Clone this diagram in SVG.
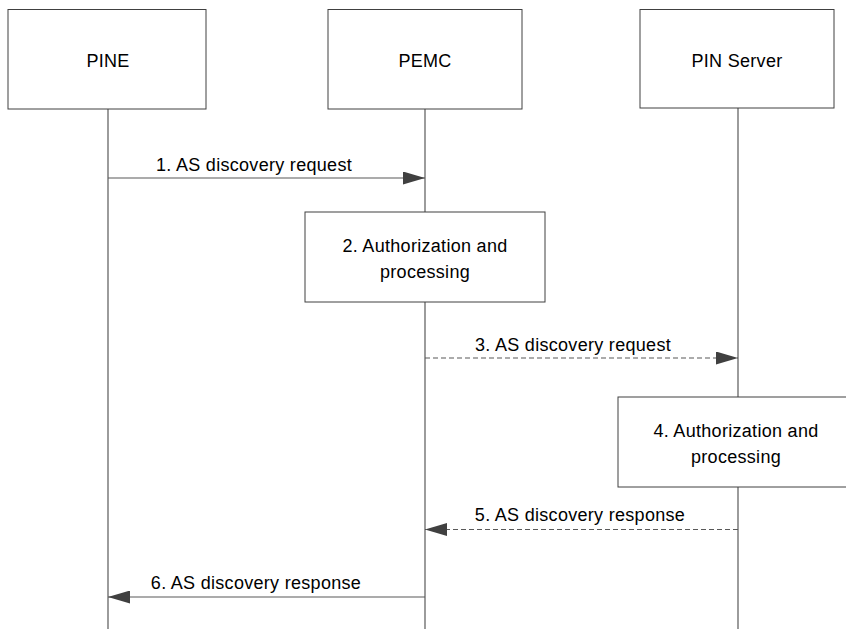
<svg xmlns="http://www.w3.org/2000/svg" width="846" height="629" viewBox="0 0 846 629">
<style>
.box{fill:#fff;stroke:#404040;stroke-width:1}
.life{stroke:#595959;stroke-width:1.2;fill:none}
.msg{stroke:#595959;stroke-width:1.2;fill:none}
.dash{stroke-dasharray:5,3}
text{font-family:"Liberation Sans",Arial,sans-serif;font-size:18px;letter-spacing:0.3px;fill:#000;text-anchor:middle}
</style>
<defs>
<marker id="ah" viewBox="0 0 22 13" refX="22" refY="6.5" markerWidth="22" markerHeight="13" markerUnits="userSpaceOnUse" orient="auto">
<path d="M0,0 L22,6.5 L0,13 Z" fill="#404040"/>
</marker>
</defs>
<g id="lifelines">
<line class="life" x1="108" y1="109" x2="108" y2="629"/>
<line class="life" x1="425" y1="109" x2="425" y2="629"/>
<line class="life" x1="738" y1="108" x2="738" y2="629"/>
</g>
<g id="pine"><rect class="box" x="8" y="9.5" width="198" height="99.5"/><text x="108" y="67">PINE</text></g>
<g id="pemc"><rect class="box" x="328" y="9.5" width="194" height="99.5"/><text x="425" y="67">PEMC</text></g>
<g id="pinserver"><rect class="box" x="640" y="9.5" width="194" height="98.5"/><text x="737" y="67">PIN Server</text></g>
<g id="step2"><rect class="box" x="305" y="212" width="240" height="90"/><text x="425" y="252">2. Authorization and</text><text x="425" y="278">processing</text></g>
<g id="step4"><rect class="box" x="618" y="397" width="240" height="90"/><text x="736" y="437">4. Authorization and</text><text x="736" y="463">processing</text></g>
<g id="connectors">
<line class="msg" x1="108" y1="178" x2="425" y2="178" marker-end="url(#ah)"/>
<text x="254" y="171">1. AS discovery request</text>
<line class="msg dash" x1="425" y1="358" x2="738" y2="358" marker-end="url(#ah)"/>
<text x="573" y="351">3. AS discovery request</text>
<line class="msg dash" x1="738" y1="529.5" x2="425" y2="529.5" marker-end="url(#ah)"/>
<text x="580" y="521">5. AS discovery response</text>
<line class="msg" x1="425" y1="597" x2="108" y2="597" marker-end="url(#ah)"/>
<text x="256" y="589">6. AS discovery response</text>
</g>
</svg>
